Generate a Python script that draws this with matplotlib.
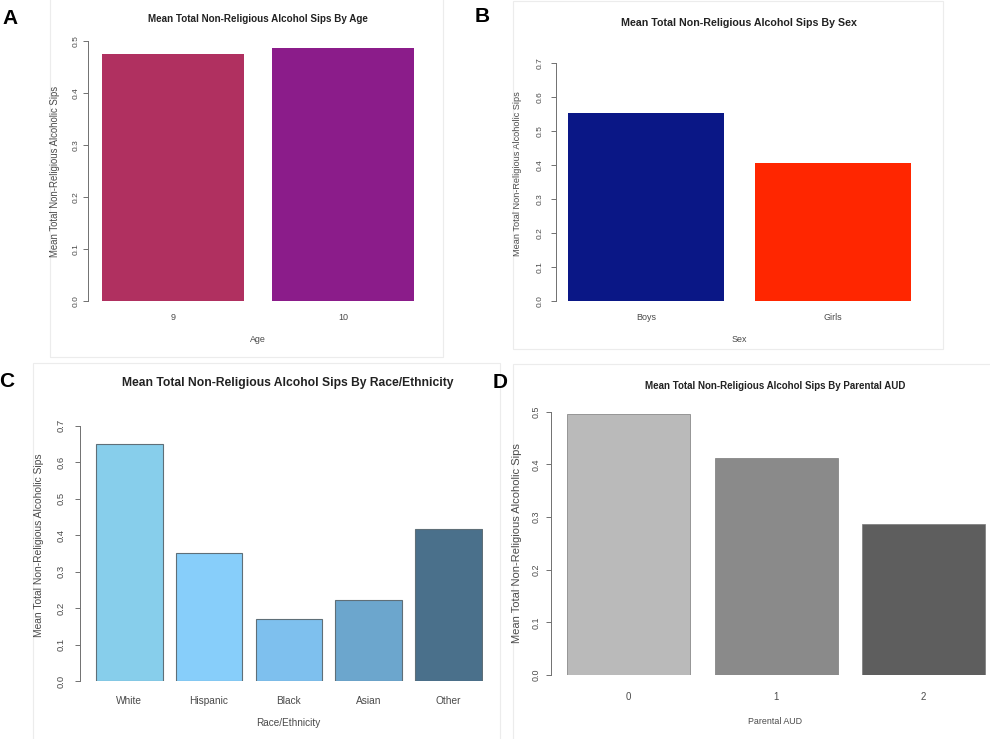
import matplotlib
matplotlib.use("Agg")
import matplotlib.pyplot as plt
import numpy as np
from matplotlib.patches import Rectangle

W, H = 990, 739

YLABEL = "Mean Total Non-Religious Alcoholic Sips"
TITLE = "Mean Total Non-Religious Alcohol Sips By "

# ---------------------------------------------------------------------------
# Data
# ---------------------------------------------------------------------------
age_groups = ["9", "10"]
age_sips = [0.475, 0.487]
age_colors = ["#B03060", "#8B1C8A"]

sex_groups = ["Boys", "Girls"]
sex_sips = [0.554, 0.406]
sex_colors = ["#0A1786", "#FF2600"]

race_groups = ["White", "Hispanic", "Black", "Asian", "Other"]
race_sips = [0.650, 0.350, 0.170, 0.222, 0.416]
race_colors = ["#87CEEB", "#87CEFA", "#7EC0EE", "#6CA6CD", "#4A708B"]

aud_groups = ["0", "1", "2"]
aud_sips = [0.496, 0.413, 0.286]
aud_colors = ["#BABABA", "#8A8A8A", "#5E5E5E"]

plt.rcParams["font.family"] = ["Liberation Sans", "DejaVu Sans"]
TXT = "#4a4a4a"


def fx(x):
    return x / W


def fy(y):
    return 1 - y / H


def barpanel(fig, names, values, colors, spine, right, zero, top, ymax,
             bar0, barw, fs=6.2, ypad=2.0, xpad=8.0, edge=None, lw=0.0):
    """R-style barplot placed by pixel coords (spine x, right x, y of 0, y of ymax)."""
    ax = fig.add_axes([fx(spine), fy(zero), (right - spine) / W, (zero - top) / H])
    origin = bar0 - 0.2 * barw
    ax.set_xlim((spine - origin) / barw, (right - origin) / barw)
    ax.set_ylim(0, ymax)
    centers = [0.7 + 1.2 * i for i in range(len(values))]
    ax.bar(centers, values, width=1.0, color=colors,
           edgecolor=edge if edge else colors, linewidth=lw)

    ticks = np.round(np.arange(0, ymax + 1e-9, 0.1), 1)
    ax.set_yticks(ticks, [f"{t:.1f}" for t in ticks], rotation=90, va="center")
    ax.set_xticks(centers, names)
    ax.tick_params(axis="y", length=3.6, width=0.7, color="#707070",
                   labelsize=fs, labelcolor=TXT, pad=ypad)
    ax.tick_params(axis="x", length=0, labelsize=fs + 0.5, labelcolor=TXT, pad=xpad)
    for s in ("top", "right", "bottom"):
        ax.spines[s].set_visible(False)
    ax.spines["left"].set_color("#707070")
    ax.spines["left"].set_linewidth(0.7)
    ax.set_facecolor("none")
    return ax


fig = plt.figure(figsize=(W / 100, H / 100), dpi=100)

# faint panel frames
for (x0, y0, x1, y1) in [(50, -2, 443, 357), (513, 1, 943, 349),
                         (33, 363, 500, 745), (513, 364, 995, 745)]:
    fig.patches.append(Rectangle((fx(x0), fy(y1)), (x1 - x0) / W, (y1 - y0) / H,
                                 transform=fig.transFigure, fill=False,
                                 edgecolor="#ececec", linewidth=0.8))

# A: age
barpanel(fig, age_groups, age_sips, age_colors, spine=88, right=430,
         zero=301, top=41, ymax=0.5, bar0=102, barw=142, fs=6.0, ypad=2.5, xpad=8.5)
fig.text(fx(258), fy(19), TITLE + "Age", ha="center", va="center",
         fontsize=7.1, fontweight="bold", color="#222222")
fig.text(fx(55), fy(171), YLABEL, rotation=90, ha="center", va="center",
         fontsize=6.9, color=TXT)
fig.text(fx(258), fy(340), "Age", ha="center", va="center", fontsize=6.4, color=TXT)

# B: sex
barpanel(fig, sex_groups, sex_sips, sex_colors, spine=556, right=925,
         zero=301, top=63, ymax=0.7, bar0=568, barw=156, fs=6.0, ypad=5.5, xpad=9.0)
fig.text(fx(739), fy(23), TITLE + "Sex", ha="center", va="center",
         fontsize=7.7, fontweight="bold", color="#222222")
fig.text(fx(518), fy(174), YLABEL, rotation=90, ha="center", va="center",
         fontsize=6.6, color=TXT)
fig.text(fx(739), fy(340), "Sex", ha="center", va="center", fontsize=6.4, color=TXT)

# C: race / ethnicity
barpanel(fig, race_groups, race_sips, race_colors, spine=80, right=483,
         zero=681, top=425.7, ymax=0.7, bar0=96, barw=66.5, fs=6.8, ypad=6.5,
         xpad=10.5, edge="#5f6f78", lw=0.8)
fig.text(fx(288), fy(383), TITLE + "Race/Ethnicity", ha="center", va="center",
         fontsize=8.7, fontweight="bold", color="#222222")
fig.text(fx(39), fy(545), YLABEL, rotation=90, ha="center", va="center",
         fontsize=7.35, color=TXT)
fig.text(fx(288), fy(723), "Race/Ethnicity", ha="center", va="center",
         fontsize=7.2, color=TXT)

# D: parental AUD
barpanel(fig, aud_groups, aud_sips, aud_colors, spine=551, right=990,
         zero=675, top=411.7, ymax=0.5, bar0=567, barw=123, fs=6.4, ypad=4.0,
         xpad=12.0, edge="#7a7a7a", lw=0.5)
fig.text(fx(775), fy(386), TITLE + "Parental AUD", ha="center", va="center",
         fontsize=7.0, fontweight="bold", color="#222222")
fig.text(fx(517), fy(543), YLABEL, rotation=90, ha="center", va="center",
         fontsize=8.0, color=TXT)
fig.text(fx(775), fy(722), "Parental AUD", ha="center", va="center",
         fontsize=6.4, color=TXT)

# panel letters
for letter, (x, y) in {"A": (10, 18), "B": (482, 17), "C": (7, 381), "D": (500, 382)}.items():
    fig.text(fx(x), fy(y), letter, ha="center", va="center", fontsize=15,
             fontweight="bold", color="black")

fig.savefig("out.png", dpi=100)
